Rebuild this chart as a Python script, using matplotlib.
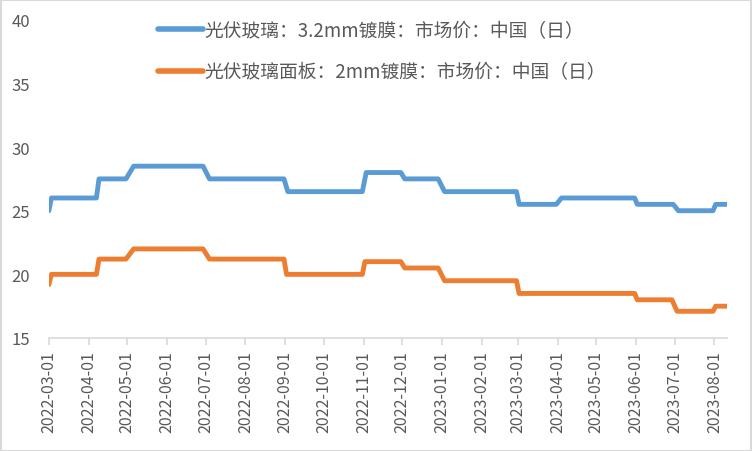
import matplotlib
matplotlib.use("Agg")
import matplotlib.pyplot as plt
import matplotlib.dates as mdates
import pandas as pd

plt.rcParams['font.family'] = ['Noto Sans CJK SC', 'DejaVu Sans']

# Blue series: 光伏玻璃 3.2mm 镀膜
blue_dates = ["2022-03-01", "2022-03-03", "2022-04-07", "2022-04-09", "2022-04-30", "2022-05-06",
              "2022-06-29", "2022-07-04", "2022-08-31", "2022-09-03", "2022-10-31", "2022-11-03",
              "2022-11-30", "2022-12-03", "2022-12-29", "2023-01-03", "2023-02-28", "2023-03-02",
              "2023-03-31", "2023-04-04", "2023-05-31", "2023-06-02", "2023-06-30", "2023-07-04",
              "2023-07-31", "2023-08-02", "2023-08-11"]
blue_values = [25.0, 26.0, 26.0, 27.5, 27.5, 28.5,
               28.5, 27.5, 27.5, 26.5, 26.5, 28.0,
               28.0, 27.5, 27.5, 26.5, 26.5, 25.5,
               25.5, 26.0, 26.0, 25.5, 25.5, 25.0,
               25.0, 25.5, 25.5]

# Orange series: 光伏玻璃面板 2mm 镀膜
orange_dates = ["2022-03-01", "2022-03-03", "2022-04-07", "2022-04-09", "2022-04-30", "2022-05-06",
                "2022-06-29", "2022-07-04", "2022-08-31", "2022-09-02", "2022-10-31", "2022-11-02",
                "2022-11-30", "2022-12-03", "2022-12-29", "2023-01-03", "2023-02-28", "2023-03-02",
                "2023-05-31", "2023-06-02", "2023-06-29", "2023-07-03", "2023-07-31", "2023-08-02",
                "2023-08-11"]
orange_values = [19.2, 20.0, 20.0, 21.2, 21.2, 22.0,
                 22.0, 21.2, 21.2, 20.0, 20.0, 21.0,
                 21.0, 20.5, 20.5, 19.5, 19.5, 18.5,
                 18.5, 18.0, 18.0, 17.1, 17.1, 17.5,
                 17.5]

series_names = ["光伏玻璃：3.2mm镀膜：市场价：中国（日）",
                "光伏玻璃面板：2mm镀膜：市场价：中国（日）"]
tick_dates = pd.date_range("2022-03-01", "2023-08-01", freq="MS")

fig = plt.figure(figsize=(7.52, 4.52), dpi=100)
ax = fig.add_axes([0.065, 0.25, 0.902, 0.704])

ax.plot(pd.to_datetime(blue_dates), blue_values, color="#5B9BD5", lw=3.5,
        solid_capstyle="round", solid_joinstyle="round", label=series_names[0])
ax.plot(pd.to_datetime(orange_dates), orange_values, color="#ED7D31", lw=3.5,
        solid_capstyle="round", solid_joinstyle="round", label=series_names[1])

ax.set_ylim(15, 40)
ax.set_yticks([15, 20, 25, 30, 35, 40])
ax.set_xlim(pd.Timestamp("2022-03-01"), pd.Timestamp(blue_dates[-1]))
ax.set_xticks(tick_dates)
ax.xaxis.set_major_formatter(mdates.DateFormatter("%Y-%m-%d"))

for s in ["top", "right", "left"]:
    ax.spines[s].set_visible(False)
ax.spines["bottom"].set_color("#D9D9D9")
ax.spines["bottom"].set_linewidth(1.2)
ax.tick_params(axis="x", direction="out", length=5, color="#D9D9D9", width=1.2,
               labelsize=11.5, labelcolor="#595959", rotation=90, pad=4)
ax.tick_params(axis="y", length=0, labelsize=12, labelcolor="#595959", pad=13.5)

leg = fig.legend(loc="upper left", bbox_to_anchor=(158 / 752, 1 - 21 / 452), frameon=False,
                 fontsize=13.5, handlelength=2.4, handletextpad=0.1, borderpad=0,
                 borderaxespad=0, labelspacing=1.1, labelcolor="#595959")
for h in leg.get_lines():
    h.set_linewidth(4)

# outer border
fig.patches.append(plt.Rectangle((0.001, 0.001), 0.998, 0.997, transform=fig.transFigure,
                                 fill=False, edgecolor="#D9D9D9", lw=1.5))

fig.savefig("out.png", dpi=100)
